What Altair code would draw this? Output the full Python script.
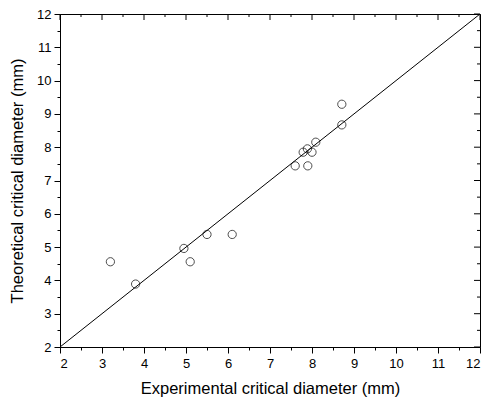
import altair as alt
import pandas as pd

exp_d = [3.2, 3.8, 4.95, 5.1, 5.5, 6.1, 7.6, 7.79, 7.89, 7.9, 8.0, 8.09, 8.71, 8.71]
theo_d = [4.56, 3.89, 4.96, 4.56, 5.38, 5.38, 7.44, 7.85, 7.95, 7.44, 7.85, 8.15, 9.29, 8.67]
major_ticks = [2, 3, 4, 5, 6, 7, 8, 9, 10, 11, 12]
minor_ticks = [2.5, 3.5, 4.5, 5.5, 6.5, 7.5, 8.5, 9.5, 10.5, 11.5]
line_x = [2, 12]
line_y = [2, 12]

W, H = 420, 333
FONT = "Liberation Sans"

pts = pd.DataFrame({"x": exp_d, "y": theo_d})
line_df = pd.DataFrame({"x": line_x, "y": line_y})
maj_df = pd.DataFrame({"v": major_ticks})
min_df = pd.DataFrame({"v": minor_ticks})

xs = alt.Scale(domain=[2, 12], nice=False, zero=False)
ys = alt.Scale(domain=[2, 12], nice=False, zero=False)

line = alt.Chart(line_df).mark_line(color="black", strokeWidth=1, clip=True).encode(
    x=alt.X("x:Q", scale=xs, axis=alt.Axis(
        orient="bottom", values=major_ticks, tickSize=6, labelPadding=4,
        title="Experimental critical diameter (mm)", titlePadding=10)),
    y=alt.Y("y:Q", scale=ys, axis=alt.Axis(
        orient="left", values=major_ticks, tickSize=6, labelPadding=3,
        title="Theoretical critical diameter (mm)", titlePadding=11)),
)

points = alt.Chart(pts).mark_point(shape="circle", filled=False, color="black",
                                   size=68, strokeWidth=1).encode(
    x=alt.X("x:Q", scale=xs, axis=alt.Axis(
        orient="bottom", values=minor_ticks, tickSize=3, labels=False,
        domain=False, title=None)),
    y=alt.Y("y:Q", scale=ys, axis=alt.Axis(
        orient="left", values=minor_ticks, tickSize=3, labels=False,
        domain=False, title=None)),
)

top_major = alt.Chart(maj_df).mark_rule(color="black", strokeWidth=1).encode(
    x=alt.X("v:Q", scale=xs, axis=None), y=alt.value(0), y2=alt.value(6))
top_minor = alt.Chart(min_df).mark_rule(color="black", strokeWidth=1).encode(
    x=alt.X("v:Q", scale=xs, axis=None), y=alt.value(0), y2=alt.value(3))
right_major = alt.Chart(maj_df).mark_rule(color="black", strokeWidth=1).encode(
    y=alt.Y("v:Q", scale=ys, axis=None), x=alt.value(W), x2=alt.value(W - 6))
right_minor = alt.Chart(min_df).mark_rule(color="black", strokeWidth=1).encode(
    y=alt.Y("v:Q", scale=ys, axis=None), x=alt.value(W), x2=alt.value(W - 3))

chart = alt.layer(line, points, top_major, top_minor, right_major, right_minor).resolve_axis(
    x="independent", y="independent"
).properties(
    width=W, height=H,
    autosize=alt.AutoSizeParams(type="none"),
    padding={"left": 60, "top": 14, "right": 9, "bottom": 55},
).configure_view(
    stroke="black", strokeWidth=1
).configure_axis(
    domainColor="black", domainWidth=1, tickColor="black", tickWidth=1,
    grid=False, labelFont=FONT, labelFontSize=13, labelColor="black",
    titleFont=FONT, titleFontSize=16.5, titleFontWeight="normal", titleColor="black",
)

chart.save("out.html", embed_options={"renderer": "svg", "actions": False})
